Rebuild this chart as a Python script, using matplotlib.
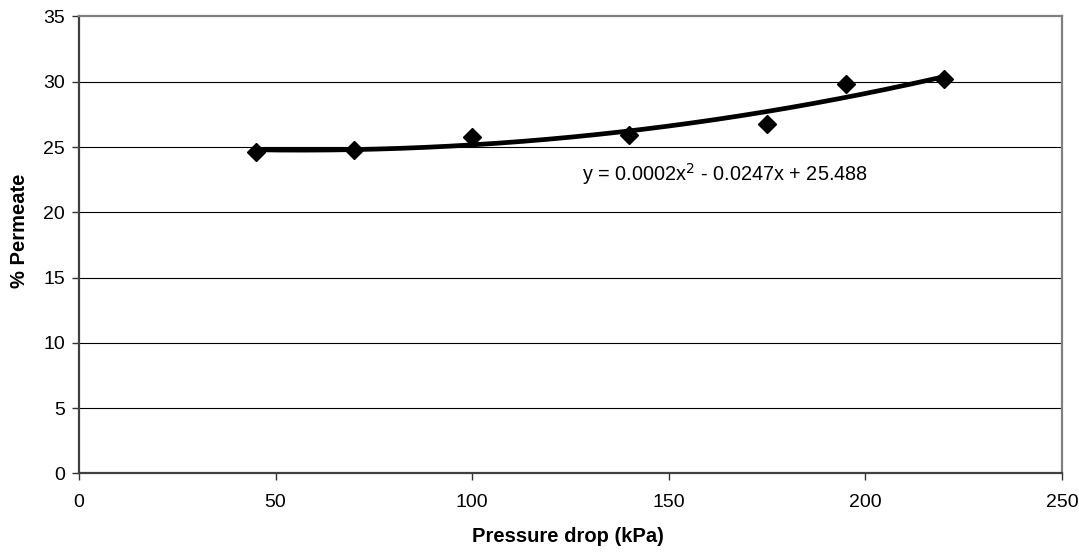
import numpy as np
import matplotlib
matplotlib.use('Agg')
import matplotlib.pyplot as plt

# pressure drop (kPa) vs permeate fraction (%)
pressure = [45, 70, 100, 140, 175, 195, 220]
permeate = [24.6, 24.8, 25.8, 25.9, 26.8, 29.8, 30.2]

x_ticks = [0, 50, 100, 150, 200, 250]
y_ticks = [0, 5, 10, 15, 20, 25, 30, 35]
eq_text = 'y = 0.0002x$^{2}$ - 0.0247x + 25.488'


def main():
    plt.rcParams['font.family'] = ['Liberation Sans', 'DejaVu Sans']
    fig = plt.figure(figsize=(10.79, 5.53), dpi=100, facecolor='white')
    ax = fig.add_axes([0.0732, 0.1441, 0.9110, 0.8261])

    # second order trendline through the points
    coef = np.polyfit(pressure, permeate, 2)
    xs = np.linspace(min(pressure), max(pressure), 200)
    ax.plot(xs, np.polyval(coef, xs), color='black', linewidth=3.4, zorder=3)
    ax.plot(pressure, permeate, ls='none', marker='D', markersize=9,
            color='black', zorder=4)

    ax.text(128, 22.9, eq_text, fontsize=14.3, va='center', ha='left')

    ax.set_xlim(0, 250)
    ax.set_ylim(0, 35)
    ax.set_xticks(x_ticks)
    ax.set_yticks(y_ticks)
    for y in y_ticks[1:-1]:
        ax.axhline(y, color='black', linewidth=0.8, zorder=1)

    ax.set_xlabel('Pressure drop (kPa)', fontsize=14.5, fontweight='bold', va='center')
    ax.set_ylabel('% Permeate', fontsize=14.5, fontweight='bold', va='center')
    ax.xaxis.set_label_coords(0.497, -0.139)
    ax.yaxis.set_label_coords(-0.061, 0.53)
    ax.tick_params(direction='out', length=5, width=1, labelsize=14, colors='#333333',
                   labelcolor='black', pad=10)
    ax.tick_params(axis='y', pad=5)

    ax.spines['left'].set_color('#404040')
    ax.spines['bottom'].set_color('#404040')
    ax.spines['left'].set_linewidth(1.6)
    ax.spines['bottom'].set_linewidth(1.6)
    ax.spines['top'].set_color('#808080')
    ax.spines['right'].set_color('#808080')
    ax.spines['top'].set_linewidth(1.6)
    ax.spines['right'].set_linewidth(1.6)

    fig.savefig('out.png', dpi=100, facecolor='white')


if __name__ == '__main__':
    main()
